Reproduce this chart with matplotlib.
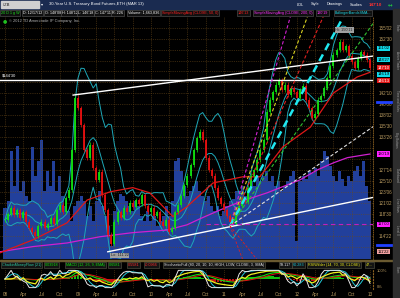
import numpy as np
import pandas as pd
import matplotlib
matplotlib.use("Agg")
import matplotlib.pyplot as plt
from matplotlib.patches import Rectangle

# ---------------- data (half-month steps from Jan 2008) ----------------
close = [117.9, 119.0, 120.2, 118.8, 119.8, 118.3, 119.4, 117.5, 116.3, 115.6,
         114.8, 116.7, 117.5, 116.3, 117.1, 118.3, 117.1, 119.8, 120.8, 119.4,
         122.1, 123.7, 131.4, 141.5, 139.5, 136.2, 131.4, 129.9, 132.4, 127.9,
         125.6, 127.2, 122.7, 119.8, 115.0, 113.2, 117.5, 119.4, 118.3, 120.2,
         119.4, 121.2, 120.4, 121.7, 121.0, 122.7, 120.6, 119.4, 120.2, 118.6,
         119.4, 117.5, 116.7, 117.9, 115.6, 116.3, 119.4, 120.8, 122.5, 124.6,
         126.4, 128.5, 131.4, 133.7, 134.9, 133.3, 129.9, 127.5, 126.4, 124.1,
         122.1, 121.0, 119.8, 118.6, 117.5, 117.1, 119.4, 120.6, 122.1, 121.4,
         124.1, 126.4, 127.5, 129.5, 131.4, 133.3, 138.8, 141.1, 142.6, 144.0,
         144.9, 143.0, 144.0, 142.0, 143.4, 142.6, 141.5, 143.0, 143.8, 141.1,
         139.5, 137.6, 138.4, 141.1, 141.8, 143.4, 145.3, 147.6, 149.8, 150.7,
         152.3, 150.7, 151.5, 149.6, 148.4, 147.3, 149.2, 150.3, 149.8, 148.8,
         147.3]
volume = [212, 241, 448, 303, 469, 282, 324, 261, 241, 461, 344, 407,
          490, 282, 365, 303, 407, 282, 344, 261, 220, 199, 158, 220,
          241, 261, 241, 178, 220, 158, 241, 282, 220, 178, 137, 54,
          199, 241, 270, 261, 241, 220, 199, 241, 220, 178, 158, 199,
          158, 178, 137, 158, 178, 220, 178, 241, 407, 419, 365, 303,
          261, 282, 303, 324, 282, 261, 241, 261, 220, 199, 220, 178,
          199, 220, 241, 249, 282, 282, 303, 261, 282, 324, 303, 344,
          324, 344, 365, 324, 344, 303, 324, 282, 303, 324, 344, 365,
          75, 324, 344, 332, 365, 357, 374, 344, 407, 448, 427, 386,
          344, 324, 365, 332, 303, 344, 324, 365, 386, 344, 407, 303, 241]

sma50_m = [-0.8, 4.6, 10.2, 13.5, 17.3, 21.0, 23.8, 27.6, 29.9, 34.2, 39.1, 41.9, 45.7, 50.2, 54.0, 57.9, 60.0]
sma50_p = [111.5, 114.0, 117.3, 121.7, 123.3, 124.1, 123.1, 118.5, 120.4, 125.0, 126.2, 126.2, 132.0, 135.8, 142.4, 145.5, 146.4]
sma200_m = [-0.8, 4.6, 10.2, 15.6, 21.0, 26.6, 29.9, 32.1, 35.4, 38.7, 43.1, 48.5, 51.3, 54.0, 56.3, 58.9, 60.0]
sma200_p = [111.7, 112.7, 113.4, 114.6, 115.4, 115.9, 116.9, 118.1, 119.8, 121.4, 123.1, 125.6, 127.5, 128.9, 129.9, 130.4, 130.6]

hline_level = 144.94
upper_trend_m = [11.2, 60.9]
upper_trend_p = [142.0, 149.6]
lower_trend_m = [16.9, 60.9]
lower_trend_p = [111.7, 122.3]
pivot_m, pivot_p = 37.0, 116.7
fan_m = [46.9, 49.7, 52.3, 55.6, 60.9, 60.9, 39.1, 41.5]
fan_p = [157.1, 157.1, 157.1, 157.1, 156.5, 136.2, 110.1, 110.1]
fan_colors = ['#d020d0', '#d8d020', '#e02020', '#20e8f0', '#30c030', '#e0e0e0', '#e02020', '#e02020']
fan_widths = [0.8, 0.8, 0.8, 1.8, 0.8, 0.8, 0.6, 0.6]
support_level = 117.0
month_ticks = list(range(0, 61, 3))
month_labels = ['08', 'Apr', 'Jul', 'Oct', '09', 'Apr', 'Jul', 'Oct', '10', 'Apr', 'Jul', 'Oct',
                '11', 'Apr', 'Jul', 'Oct', '12', 'Apr', 'Jul', 'Oct', '13']

# ---------------- helpers ----------------
W, H = 400, 298
def fx(x): return x / W
def fy(y): return 1 - y / H
def fmt32(p):
    w = int(np.floor(p)); n = int(round((p - w) * 32))
    if n == 32: w += 1; n = 0
    return f"{w}'{n:02d}"

FONT = 'Liberation Sans'
plt.rcParams['font.family'] = [FONT, 'DejaVu Sans']
AXC = '#b89a60'
GRIDC = '#6b4a1a'

fig = plt.figure(figsize=(4, 2.98), dpi=100, facecolor='black')

c = np.array(close); t = np.arange(len(c)) * 0.5
s = pd.Series(c)
opens = np.r_[c[0], c[:-1]]
XL = (-0.82, 60.5)
YL = (110.3, 157.1)

# bollinger bands computed from closes
mid = s.rolling(8, min_periods=1).mean()
sd = s.rolling(8, min_periods=2).std().fillna(0)
up_b, lo_b = mid + 2 * sd, mid - 2 * sd

boxes = [(up_b.iloc[-1], '#10d8e8', 'black'), (mid.iloc[-1], '#10d8e8', 'black'),
         (lo_b.iloc[-1], '#10d8e8', 'black'), (c[-1], '#e01818', 'white'),
         (sma50_p[-1], '#e01818', 'white'), (sma200_p[-1], '#ff20ff', 'black'),
         (support_level, '#ff20ff', 'black'), (111.69, '#f0a0a0', 'black')]
# nudge boxes so they do not overlap
placed = []
for p, fc, tc in sorted(boxes, key=lambda b: -b[0]):
    yp = p
    for q, _, _, _ in placed:
        if abs(yp - q) < 1.25:
            yp = q - 1.25
    placed.append((yp, p, fc, tc))

# volume axes (behind)
axv = fig.add_axes([0, fy(259), fx(373), (259 - 17) / H])
axv.set_facecolor('black')
axv.bar(t, volume, width=0.5, color='#22409c', edgecolor='none', zorder=1)
axv.set_xlim(*XL); axv.set_ylim(0, 1000)
axv.set_axis_off()

# price axes
ax = fig.add_axes([0, fy(259), fx(373), (259 - 17) / H], facecolor='none')
ax.set_xlim(*XL); ax.set_ylim(*YL)
yt = 138.0625 + 2.125 * np.arange(-12, 9)
yt = yt[(yt > YL[0] + 0.5) & (yt < YL[1] - 0.5)]
box_ys = np.array([b[0] for b in placed])
ax.set_yticks(yt)
ax.set_yticklabels([fmt32(v) if np.min(np.abs(box_ys - v)) > 1.6 else '' for v in yt])
ax.yaxis.tick_right()
ax.tick_params(axis='y', colors=AXC, labelsize=3.3, length=0, pad=4)
ax.set_xticks(month_ticks); ax.tick_params(axis='x', length=0, labelbottom=False)
ax.grid(True, color=GRIDC, linestyle=':', linewidth=0.5, zorder=0)
for sp in ['top', 'left', 'bottom']:
    ax.spines[sp].set_visible(False)
ax.spines['right'].set_color('#8a6020'); ax.spines['right'].set_linestyle(':'); ax.spines['right'].set_linewidth(0.6)

for ser in (up_b, mid, lo_b):
    ax.plot(t, ser, color='#1ea8b8', lw=0.7, zorder=3)

ax.plot(sma200_m, sma200_p, color='#d020d0', lw=0.9, zorder=3)
ax.plot(sma50_m, sma50_p, color='#e01818', lw=0.9, zorder=3)

# candles
cols = np.where(c >= opens, '#10e010', '#e81010')
ax.vlines(t, np.minimum(opens, c) - 0.45, np.maximum(opens, c) + 0.45, colors=cols, lw=0.5, zorder=4)
ax.vlines(t, opens, c, colors=cols, lw=1.3, zorder=4)

# trendlines
ax.axhline(hline_level, color='white', lw=1.0, zorder=5)
ax.plot(upper_trend_m, upper_trend_p, color='white', lw=1.0, zorder=5)
ax.plot(lower_trend_m, lower_trend_p, color='white', lw=1.0, zorder=5)
for m2, p2, col, lw in zip(fan_m, fan_p, fan_colors, fan_widths):
    ax.plot([pivot_m, m2], [pivot_p, p2], color=col, lw=lw, ls=(0, (3, 2)), zorder=5)
ax.plot([33, XL[1]], [support_level, support_level], color='#c020c0', lw=0.8, ls=(0, (4, 3)), zorder=5)

ax.text(-0.5, hline_level + 0.5, "$144'30", color='white', fontsize=3.0, va='bottom', zorder=6)
ax.text(17.4, 111.0, "Lo: 111'22", color='#202020', fontsize=2.8, va='center', zorder=6,
        bbox=dict(boxstyle='square,pad=0.2', fc='#a0a0a0', ec='none'))
ax.text(54.3, 154.6, "Hi: 150'11", color='#202020', fontsize=2.8, va='center', zorder=6,
        bbox=dict(boxstyle='square,pad=0.2', fc='#a0a0a0', ec='none'))

for yp, p, fc, tc in placed:
    ax.text(1.012, yp, fmt32(p), transform=ax.get_yaxis_transform(), color=tc, fontsize=3.0,
            va='center', ha='left', zorder=7,
            bbox=dict(boxstyle='square,pad=0.15', fc=fc, ec='none'))
for p in (140.7, 113.0):
    ax.plot([1.01, 1.05], [p, p], transform=ax.get_yaxis_transform(), clip_on=False,
            color='#2040ff', lw=2.0, zorder=7)

# ---------------- oscillator panel ----------------
axo = fig.add_axes([0, fy(289), fx(373), 20 / H], facecolor='black')
axo.set_xlim(*XL); axo.set_ylim(-8, 108)
hi = s.rolling(6, min_periods=1).max(); lo = s.rolling(6, min_periods=1).min()
k = (100 * (s - lo) / (hi - lo).replace(0, np.nan)).fillna(50).rolling(2, min_periods=1).mean()
d = k.rolling(3, min_periods=1).mean()
delta = s.diff().fillna(0)
gain = delta.clip(lower=0).ewm(alpha=1 / 5).mean()
loss = (-delta.clip(upper=0)).ewm(alpha=1 / 5).mean()
rsi = 100 - 100 / (1 + gain / loss.replace(0, np.nan))
rsi = rsi.fillna(50)
macd = s.ewm(span=6).mean() - s.ewm(span=13).mean()
sig = macd.ewm(span=5).mean()
hist = macd - sig
hcol = np.where(hist >= 0, '#10c010', '#c01010')
axo.bar(t, hist * 12, bottom=50, width=0.45, color=hcol, zorder=1)
axo.plot(t, 50 + macd * 7, color='#10e010', lw=0.8, zorder=2)
axo.plot(t, 50 + sig * 7, color='#e01010', lw=0.7, zorder=2)
axo.plot(t, d, color='#20c8d8', lw=0.7, zorder=3)
axo.plot(t, rsi, color='#f0f020', lw=0.9, zorder=4)
axo.plot(t, k, color='#e8e8e8', lw=0.7, zorder=5)
axo.set_xticks(month_ticks); axo.set_xticklabels(month_labels)
axo.tick_params(axis='x', colors=AXC, labelsize=3.3, length=0, pad=2.5)
axo.set_yticks([])
axo.grid(True, axis='x', color=GRIDC, linestyle=':', linewidth=0.5)
for sp in axo.spines.values():
    sp.set_visible(False)
axo.spines['right'].set_visible(True); axo.spines['right'].set_color('#8a6020'); axo.spines['right'].set_linestyle(':')
fig.text(fx(377), fy(270.5), '100%', color=AXC, fontsize=3.0, va='center')
fig.text(fx(377), fy(287), '0%', color=AXC, fontsize=3.0, va='center')

# separator line
fig.add_artist(Rectangle((0, fy(261)), fx(393), 1.5 / H, color='#6a5a30', transform=fig.transFigure))

# oscillator label row
osc_labels = [(2, 'ChaikinMoneyFlow (21)', '#30c8a0'), (45, '0.03918', '#10e010'),
              (66, 'MACD (12, 26, 9, EMA)', '#10e010'), (109, '0.6581', '#10e010'),
              (128, '0.5581', '#ff3030'), (145, '-0.0966', '#ff3030'),
              (164, 'StochasticFull (80, 20, 10, 10, HIGH, LOW, CLOSE, 3, SMA)', '#e8e8e8'),
              (280, '59.117', '#e8e8e8'), (293, '60.283', '#20c8d8'),
              (308, 'RSIWilder (14, 70, 30, CLOSE)', '#f0f020'), (366, '47...', '#f0f020')]
for x, txt, col in osc_labels:
    fig.text(fx(x), fy(265), txt, color=col, fontsize=2.7, va='center', ha='left',
             bbox=dict(boxstyle='square,pad=0.2', fc='#141414', ec='#5a5a48', lw=0.4))

# ---------------- header ----------------
fig.add_artist(Rectangle((0, fy(9)), 1, 9 / H, color='#1a2b50', transform=fig.transFigure))
fig.add_artist(Rectangle((fx(1), fy(8)), fx(38), 7 / H, color='#d0d0d0', transform=fig.transFigure))
fig.text(fx(3), fy(4.5), '/ZB', color='#202020', fontsize=3.0, va='center')
fig.text(fx(41), fy(4.5), '\u25be', color='white', fontsize=3.0, va='center', family='DejaVu Sans')
fig.text(fx(49), fy(4.5), '30-Year U.S. Treasury Bond Futures,ETH (MAR 13)', color='white', fontsize=3.0, va='center')
for x, txt in [(297, 'LDL'), (311, 'Style'), (327, 'Drawings'), (350, 'Studies')]:
    fig.text(fx(x), fy(4.5), txt, color='white', fontsize=2.8, va='center')
fig.text(fx(369), fy(4.5), fmt32(c[-1]), color='#ff3030', fontsize=3.2, va='center', weight='bold')
fig.text(fx(388), fy(4.5), '\u2194', color='#20d040', fontsize=4, va='center', family='DejaVu Sans')

info = [(1, '20 D 1 g W', '#20e020'), (23, 'D: 12/17/12', 'white'), (45, "O: 148'08", 'white'),
        (62, "H: 148'12", 'white'), (78, "L: 146'18", 'white'), (95, "C: 147'11", 'white'),
        (112, 'R: 226', 'white'), (128, 'Volume: 1,663,836', 'white'),
        (162, 'SimpleMovingAvg (CLOSE, 50, 0)', '#ff2020'), (238, fmt32(sma50_p[-1]), '#ff2020'),
        (254, 'SimpleMovingAvg (CLOSE, 200, 0)', '#ff30ff'), (317, fmt32(sma200_p[-1]), '#ff30ff'),
        (335, 'BollingerBandsSMA...', '#20d8e8')]
for x, txt, col in info:
    fig.text(fx(x), fy(12.8), txt, color=col, fontsize=2.7, va='center', ha='left',
             bbox=dict(boxstyle='square,pad=0.2', fc='#101010', ec='#5a5a5a', lw=0.4))
fig.text(fx(3), fy(21), '\u25cf', color='#20c020', fontsize=3.5, va='center', family='DejaVu Sans')
fig.text(fx(9), fy(21), '\u00a9 2012 TD Ameritrade IP Company, Inc.', color='#b0b0b0', fontsize=2.9, va='center')

# right tab strip
fig.add_artist(Rectangle((fx(393), 0), fx(7), fy(9), color='#2e2e2e', transform=fig.transFigure))
for y, txt in [(28, 'Trade'), (60, 'Active Trader'), (100, 'Time and Sales'), (140, 'Big Buttons'),
               (175, 'Dashboard'), (205, 'Live News'), (230, 'Level II'), (270, 'Chart')]:
    fig.text(fx(396.5), fy(y), txt, color='#a0a0a0', fontsize=2.2, rotation=270, va='center', ha='center')

fig.savefig('out.png', dpi=100, facecolor='black')
